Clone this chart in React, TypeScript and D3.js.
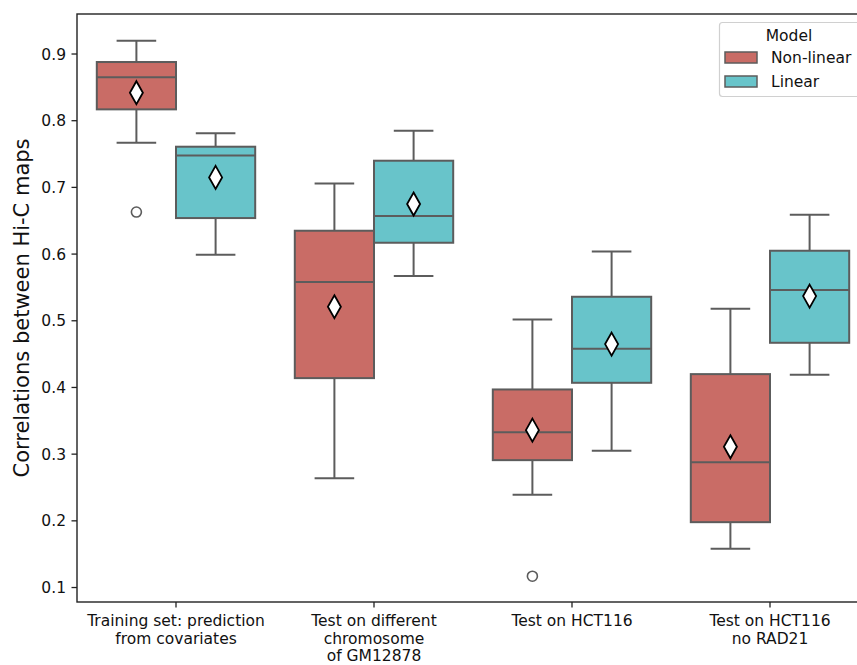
import React, { useEffect, useRef } from 'react';
import * as d3 from 'd3';

// x categories, one array of text lines each
const categories = [
    ['Training set: prediction', 'from covariates'],
    ['Test on different', 'chromosome', 'of GM12878'],
    ['Test on HCT116'],
    ['Test on HCT116', 'no RAD21'],
];

const seriesNames = ['Non-linear', 'Linear'];
const seriesColors = ['#c96c66', '#68c4ca'];

// [whisker low, q1, median, q3, whisker high]
const nonLinearBox = [
    [0.767, 0.817, 0.865, 0.888, 0.920],
    [0.264, 0.414, 0.558, 0.635, 0.706],
    [0.239, 0.291, 0.333, 0.397, 0.502],
    [0.158, 0.198, 0.288, 0.420, 0.518],
];
const nonLinearMean = [0.842, 0.521, 0.336, 0.311];
const nonLinearOutliers = [[0.663], [], [0.117], []];

const linearBox = [
    [0.599, 0.654, 0.748, 0.761, 0.781],
    [0.567, 0.617, 0.657, 0.740, 0.785],
    [0.305, 0.407, 0.458, 0.536, 0.604],
    [0.419, 0.467, 0.546, 0.605, 0.659],
];
const linearMean = [0.715, 0.675, 0.465, 0.537];
const linearOutliers = [[], [], [], []];

const yTicks = [0.1, 0.2, 0.3, 0.4, 0.5, 0.6, 0.7, 0.8, 0.9];

const W = 857;
const H = 665;
const margin = { top: 14, right: -12, bottom: 63, left: 77 };
const FONT = 'DejaVu Sans, sans-serif';
const EDGE = '#5c5c5c';

const draw = (node) => {
    const svg = d3.select(node);
    svg.selectAll('*').remove();

    const x = d3.scaleBand()
        .domain(d3.range(categories.length))
        .range([margin.left, W - margin.right])
        .paddingInner(0)
        .paddingOuter(0);
    const y = d3.scaleLinear()
        .domain([0.0783, 0.96])
        .range([H - margin.bottom, margin.top]);

    const boxW = x.bandwidth() * 0.4;
    const series = [
        { box: nonLinearBox, mean: nonLinearMean, outliers: nonLinearOutliers },
        { box: linearBox, mean: linearMean, outliers: linearOutliers },
    ];

    // boxes
    series.forEach((s, si) => {
        s.box.forEach((b, ci) => {
            const left = x(ci) + x.bandwidth() * 0.1 + si * boxW;
            const cx = left + boxW / 2;
            const g = svg.append('g');
            const [lo, q1, med, q3, hi] = b;
            // whiskers
            g.append('line')
                .attr('x1', cx).attr('x2', cx)
                .attr('y1', y(q1)).attr('y2', y(lo))
                .attr('stroke', EDGE).attr('stroke-width', 2);
            g.append('line')
                .attr('x1', cx).attr('x2', cx)
                .attr('y1', y(q3)).attr('y2', y(hi))
                .attr('stroke', EDGE).attr('stroke-width', 2);
            g.selectAll('.cap')
                .data([lo, hi])
                .enter()
                .append('line')
                .attr('x1', cx - boxW / 4)
                .attr('x2', cx + boxW / 4)
                .attr('y1', (d) => y(d))
                .attr('y2', (d) => y(d))
                .attr('stroke', EDGE)
                .attr('stroke-width', 2);
            g.append('rect')
                .attr('x', left)
                .attr('y', y(q3))
                .attr('width', boxW)
                .attr('height', y(q1) - y(q3))
                .attr('fill', seriesColors[si])
                .attr('stroke', EDGE)
                .attr('stroke-width', 2);
            g.append('line')
                .attr('x1', left).attr('x2', left + boxW)
                .attr('y1', y(med)).attr('y2', y(med))
                .attr('stroke', EDGE).attr('stroke-width', 2);
            // outliers
            g.selectAll('.out')
                .data(s.outliers[ci])
                .enter()
                .append('circle')
                .attr('cx', cx)
                .attr('cy', (d) => y(d))
                .attr('r', 5)
                .attr('fill', 'none')
                .attr('stroke', EDGE)
                .attr('stroke-width', 1.6);
            // mean marker (thin diamond)
            const my = y(s.mean[ci]);
            g.append('path')
                .attr('d', `M${cx},${my - 11.5}L${cx + 6.5},${my}L${cx},${my + 11.5}L${cx - 6.5},${my}Z`)
                .attr('fill', 'white')
                .attr('stroke', 'black')
                .attr('stroke-width', 1.8);
        });
    });

    // y axis
    const yAxis = svg.append('g');
    yTicks.forEach((t) => {
        yAxis.append('line')
            .attr('x1', margin.left - 5.5).attr('x2', margin.left)
            .attr('y1', y(t)).attr('y2', y(t))
            .attr('stroke', '#222').attr('stroke-width', 1.3);
        yAxis.append('text')
            .attr('x', margin.left - 11)
            .attr('y', y(t))
            .attr('dy', '0.36em')
            .attr('text-anchor', 'end')
            .attr('font-family', FONT)
            .attr('font-size', 15.5)
            .attr('fill', '#111')
            .text(d3.format('.1f')(t));
    });

    // x axis
    categories.forEach((lines, ci) => {
        const cx = x(ci) + x.bandwidth() / 2;
        svg.append('line')
            .attr('x1', cx).attr('x2', cx)
            .attr('y1', H - margin.bottom).attr('y2', H - margin.bottom + 5.5)
            .attr('stroke', '#222').attr('stroke-width', 1.3);
        lines.forEach((ln, li) => {
            svg.append('text')
                .attr('x', cx)
                .attr('y', 626 + li * 17.5)
                .attr('text-anchor', 'middle')
                .attr('font-family', FONT)
                .attr('font-size', 15.5)
                .attr('fill', '#111')
                .text(ln);
        });
    });

    // spines
    svg.append('rect')
        .attr('x', margin.left)
        .attr('y', margin.top)
        .attr('width', W - margin.right - margin.left)
        .attr('height', H - margin.bottom - margin.top)
        .attr('fill', 'none')
        .attr('stroke', '#222')
        .attr('stroke-width', 1.4);

    // y label
    svg.append('text')
        .attr('transform', `translate(29,${(margin.top + H - margin.bottom) / 2}) rotate(-90)`)
        .attr('text-anchor', 'middle')
        .attr('font-family', FONT)
        .attr('font-size', 21)
        .attr('fill', '#111')
        .text('Correlations between Hi-C maps');

    // legend
    const lg = svg.append('g');
    lg.append('rect')
        .attr('x', 719.5).attr('y', 22.5)
        .attr('width', 142).attr('height', 74)
        .attr('rx', 3)
        .attr('fill', 'white')
        .attr('fill-opacity', 0.8)
        .attr('stroke', '#d0d0d0')
        .attr('stroke-width', 1.2);
    lg.append('text')
        .attr('x', 789).attr('y', 40.5)
        .attr('text-anchor', 'middle')
        .attr('font-family', FONT)
        .attr('font-size', 15.5)
        .attr('fill', '#111')
        .text('Model');
    seriesNames.forEach((name, i) => {
        const yy = 52 + i * 24;
        lg.append('rect')
            .attr('x', 725).attr('y', yy)
            .attr('width', 32).attr('height', 11)
            .attr('fill', seriesColors[i])
            .attr('stroke', EDGE)
            .attr('stroke-width', 1.5);
        lg.append('text')
            .attr('x', 771).attr('y', yy + 5.5)
            .attr('dy', '0.36em')
            .attr('font-family', FONT)
            .attr('font-size', 15.5)
            .attr('fill', '#111')
            .text(name);
    });
};

const App = () => {
    const ref = useRef(null);
    useEffect(() => {
        draw(ref.current);
    }, []);

    return (
        <svg
            ref={ref}
            width={W}
            height={H}
            style={{ position: 'absolute', left: 0, top: 0, background: 'white' }}
        />
    );
};

export default App;
